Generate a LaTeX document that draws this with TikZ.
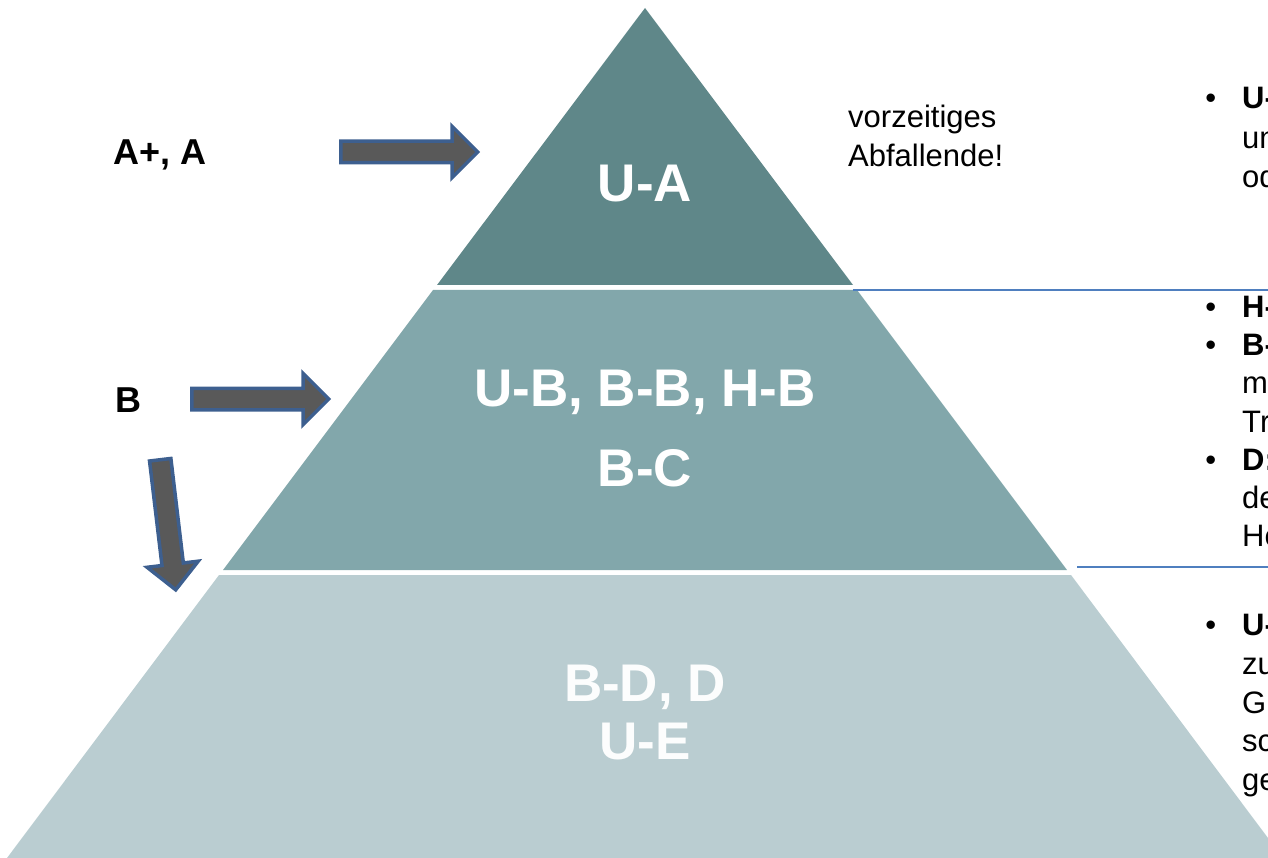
\documentclass[tikz,border=0pt]{standalone}
\usepackage{fontspec}
\setmainfont{Liberation Sans}
\usetikzlibrary{positioning,shapes.arrows}
\definecolor{tiertop}{HTML}{5F8789}
\definecolor{tiermid}{HTML}{82A7AB}
\definecolor{tierlow}{HTML}{BACDD1}
\definecolor{rulerblue}{HTML}{4F7FBF}
\definecolor{arrowgrey}{HTML}{595959}
\definecolor{arrowedge}{HTML}{3D5F8F}
\newcommand{\bul}{\llap{•\hskip 26pt}}

\begin{document}
\begin{tikzpicture}[x=1pt, y=-1pt,
    big/.style={text=white, font=\fontsize{53}{56}\selectfont\bfseries, align=center},
    side/.style={font=\fontsize{36}{40}\selectfont\bfseries},
    note/.style={font=\fontsize{31}{39.5}\selectfont, align=left, inner sep=0pt, anchor=north west},
    fat/.style={single arrow, draw=arrowedge, fill=arrowgrey, line width=3.5pt,
                inner xsep=0pt, inner ysep=9pt, minimum height=137pt,
                single arrow head extend=15pt, anchor=tail},
    ruler/.style={rulerblue, line width=1.8pt}]
    \useasboundingbox (0,0) rectangle (1268,858);
    \clip (0,0) rectangle (1268,858);

    % pyramid tiers
    \fill[tiertop] (645,8) -- (853,285) -- (437,285) -- cycle;
    \fill[tiermid] (433,290) -- (857,290) -- (1067,570) -- (223,570) -- cycle;
    \fill[tierlow] (219,575) -- (1071,575) -- (1283,858) -- (7,858) -- cycle;
    \coordinate (c1) at (853,290);
    \coordinate (c2) at (1077,567);
    \coordinate (e1) at (1268,290);
    \coordinate (e2) at (1268,567);
    \draw[ruler] (c1) -- (e1);
    \draw[ruler] (c2) -- (e2);

    \node[big] (ua) at (645,184) {U-A};
    \node[big] (ub) at (645,392) {U-B, B-B, H-B};
    \node[big] (bc) at (645,468) {B-C};
    \node[big, text=white!96!tierlow] (bd) at (645,687) {B-D, D};
    \node[big, text=white!96!tierlow] (ue) at (645,742) {U-E};

    % left side
    \node[side] (aa) at (160,155) {A+, A};
    \node[side] (bb) at (128,400) {B};
    \node[fat] (ar1) at (339,152) {};
    \node[fat] (ar2) at (190,399) {};
    \node[fat, minimum height=131pt, rotate=-83.2] (ar3) at (160,458) {};

    % notes
    \node[note, font=\fontsize{31}{39}\selectfont] (vz) at (848,105) {vorzeitiges\\Abfallende!};

    \node[note] (n1) at (1242,87) {\bul\textbf{U-A}\\und\\oder};
    \node[note, font=\fontsize{31}{38.2}\selectfont] (n2) at (1242,296)
        {\bul\textbf{H-B}\\\bul\textbf{B-B}\\mit\\Tr\\\bul\textbf{D:}\\der\\He};
    \node[note, font=\fontsize{31}{38.8}\selectfont] (n3) at (1242,614) {\bul\textbf{U-E}\\zu\\Gl\\sc\\ge};
\end{tikzpicture}
\end{document}
